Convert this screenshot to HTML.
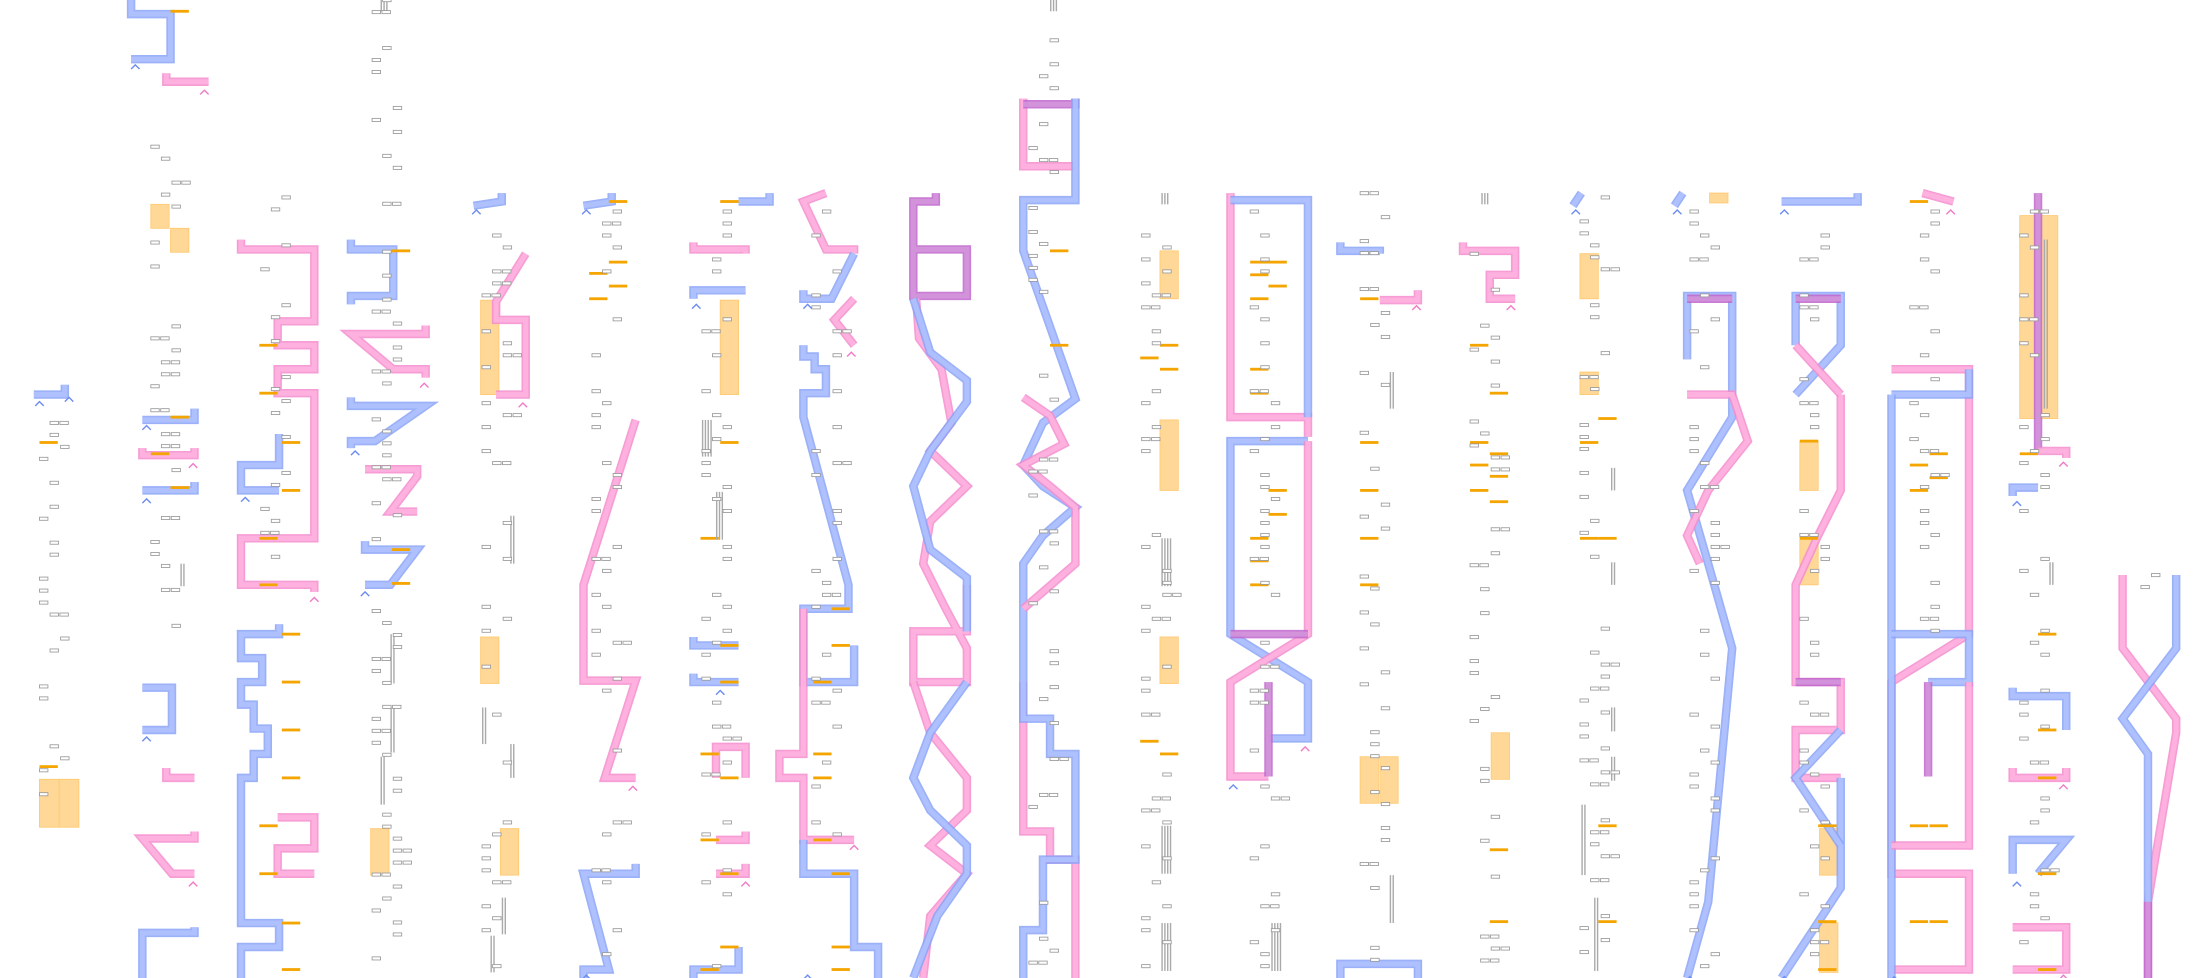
<!DOCTYPE html>
<html><head><meta charset="utf-8"><style>
html,body{margin:0;padding:0;background:#fff;width:2210px;height:978px;overflow:hidden}
svg{display:block}
</style></head><body>
<svg id="s" width="2210" height="978" viewBox="0 0 1568 694" preserveAspectRatio="none" xmlns="http://www.w3.org/2000/svg">
<g id="bg"></g><g id="ln"></g><g id="fg"></g>
</svg>
<script>
const NS="http://www.w3.org/2000/svg";
const bg=document.getElementById('bg'),ln=document.getElementById('ln'),fg=document.getElementById('fg');
function el(p,t,a){const e=document.createElementNS(NS,t);for(const k in a)e.setAttribute(k,a[k]);p.appendChild(e);return e;}
const C={b:['#8aa3f7','#b2c3ff'],p:['#f58ccf','#ffb5df'],m:['#c066cc','#d396dc']};
function P(d,c){el(ln,'path',{d:d,fill:'none',stroke:C[c][0],'stroke-width':6,'stroke-linejoin':'miter','stroke-opacity':0.85});
 el(ln,'path',{d:d,fill:'none',stroke:C[c][1],'stroke-width':3.6,'stroke-linejoin':'miter','stroke-opacity':0.85});}
function O(x,y,w,h){el(bg,'rect',{x:x,y:y,width:w,height:h,fill:'#ffd897',stroke:'#ffc870','stroke-width':0.6});}
function L(x,y,w){el(fg,'rect',{x:x,y:y-1,width:w||13,height:2,fill:'#f5a500'});}
function G(x,y){el(fg,'rect',{x:x,y:y-1,width:6,height:2.2,fill:'#fff',stroke:'#999','stroke-width':0.6});}
function H(x,y,n,h){for(let i=0;i<n;i++)el(fg,'rect',{x:x+i*2,y:y,width:1,height:h,fill:'#aaa'});}
function CH(x,y,c){el(fg,'path',{d:`M${x-3} ${y+3}L${x} ${y}L${x+3} ${y+3}`,fill:'none',stroke:c=='b'?'#6d8cf0':'#f07cc6','stroke-width':1});}
// orange boxes
O(28,553,14,34);O(42,553,14,34);O(107,145,13,17);O(121,162,13,17);
O(263,588,13,33);O(341,213,13,67);O(341,452,13,33);O(355,588,13,33);
O(511,213,13,67);O(823,178,13,34);O(823,298,13,50);O(823,452,13,33);
O(965,537,13,33);O(979,537,13,33);O(1058,520,13,33);O(1121,180,13,32);O(1121,264,13,16);
O(1213,137,13,7);O(1277,313,13,35);O(1277,380,13,35);O(1291,588,13,33);O(1291,655,13,35);
O(1433,153,27,144);
// paths
P('M24 280L46 280L46 273','b');
P('M93 0L93 10L121 10L121 42L93 42','b');P('M118 52L118 58L148 58','p');
P('M101 298L138 298L138 290','b');P('M101 318L101 323L138 323L138 318','p');P('M101 348L138 348L138 342','b');
P('M101 488L122 488L122 518L101 518','b');P('M118 545L118 552L138 552','p');
P('M138 590L138 595L101 595L122 620L138 620','p');P('M101 694L101 662L138 662L138 658','b');
P('M171 170L171 177L223 177L223 228L197 228L197 245L223 245L223 262L197 262L197 279L223 279L223 382L171 382L171 415L223 415L223 420','p');
P('M198 308L198 330L171 330L171 348L198 348','b');
P('M198 443L198 450L171 450L171 467L186 467L186 484L171 484L171 500L180 500L180 517L190 517L190 535L180 535L180 552L171 552L171 655L198 655L198 672L171 672L171 694','b');
P('M197 580L223 580L223 602L197 602L197 620L223 620','p');
P('M249 170L249 177L279 177L279 210L249 210L249 216','b');
P('M302 231L302 237L249 237L279 262L302 262L302 268','p');
P('M249 282L249 288L302 288L266 313L249 313L249 318','b');
P('M259 333L296 333L296 338L277 363L296 363','p');
P('M259 384L259 390L296 390L277 415L259 415','b');
P('M336 146L356 143L356 137','b');P('M373 180L352 214L352 227L373 227L373 280L352 280','p');
P('M414 146L434 143L434 137','b');P('M451 298L414 415L414 483L451 483L429 552L451 552','p');
P('M451 613L451 620L414 620L432 688L414 688L414 694','b');
P('M524 143L546 143L546 137','b');P('M492 172L492 177L529 177L529 180','p');P('M492 212L492 206L529 206','b');
P('M492 452L492 458L524 458','b');P('M492 478L492 484L524 484','b');P('M508 552L508 530L529 530L529 552','p');
P('M508 596L529 596L529 590','p');P('M508 620L529 620L529 613','p');P('M492 694L492 688L524 688L524 672','b');
P('M586 137L570 143L586 177L606 177L606 180','p');P('M606 180L590 212L570 212L570 206','b');P('M606 212L592 227L606 245','p');
P('M570 245L570 253L578 253L578 262L586 262L586 279L570 279L570 296L602 415L602 432L570 432L570 484L606 484L606 458','b');
P('M570 432L570 535L553 535L553 552L570 552L570 596L606 596','p');
P('M570 596L570 620L606 620L606 672L623 672L623 694','b');
P('M664 137L664 143L648 143L648 210L686 210L686 177L648 177','m');
P('M650 212L652 240L668 262L675 300L660 320L686 345L660 370L655 400L670 430L686 460L686 484L648 484L648 448L686 448L686 415','p');
P('M648 212L660 250L686 270L686 285L660 320L648 345L660 390L686 410L686 448','b');
P('M648 484L660 520L686 552L686 575L660 600L686 620L660 650L655 694','p');
P('M686 484L660 520L648 552L660 575L686 600L686 620L665 650L648 694','b');
P('M726 70L726 118L763 118','p');P('M726 74L763 74L763 70','m');P('M763 70L763 142L726 142L726 178L763 283L740 300L726 330L740 345L763 360L740 380L726 400L726 432L726 484','b');
P('M726 282L745 295L755 315L726 330L745 345L763 360L763 400L740 420L726 432','p');
P('M726 484L726 590L745 590L745 610L763 610L763 694','p');P('M726 484L726 510L745 510L745 535L763 535L763 610L740 610L740 660L726 660L726 694','b');
P('M873 137L873 296L928 296L928 310','p');P('M873 142L928 142L928 296','b');
P('M928 313L873 313L873 450L928 484L928 524L900 524','b');P('M928 313L928 450L873 484L873 551L900 551','p');
P('M900 484L900 551','m');P('M873 450L928 450','m');
P('M951 172L951 178L979 178L979 180','b');P('M979 213L1006 213L1006 206','p');P('M951 694L951 684L1006 684L1006 694','b');
P('M1038 172L1038 178L1075 178L1075 195L1057 195L1057 212L1075 212','p');
P('M1116 146L1122 137','b');P('M1188 146L1194 137','b');
P('M1197 255L1197 210L1229 210L1229 280','b');P('M1197 212L1229 212','m');
P('M1229 280L1229 296L1197 348L1212 400L1229 460L1212 640L1197 694','b');
P('M1197 280L1229 280L1240 313L1212 348L1197 380L1206 400','p');
P('M1264 143L1318 143L1318 137','b');P('M1274 245L1274 210L1306 210L1306 245L1274 280','b');P('M1274 212L1306 212','m');
P('M1306 280L1306 348L1290 380L1274 415L1274 484L1306 484L1306 518L1274 518L1274 552L1306 552','p');
P('M1274 245L1306 280','p');P('M1274 484L1306 484','m');P('M1306 552L1306 630L1264 694','b');P('M1306 518L1274 552L1306 600','b');
P('M1364 137L1386 143','p');
P('M1342 262L1397 262L1397 450L1342 484L1342 620L1397 620L1397 688L1342 688','p');
P('M1342 280L1397 280L1397 262','b');P('M1342 694L1342 280','b');P('M1342 450L1397 450L1397 484L1368 484','b');P('M1368 484L1368 551','m');P('M1342 600L1397 600L1397 484','p');
P('M1446 137L1446 320','m');P('M1446 320L1466 320L1466 325','p');P('M1428 352L1428 346L1446 346','b');
P('M1428 488L1428 494L1466 494L1466 518','b');P('M1428 545L1428 552L1466 552L1466 545','p');
P('M1428 620L1428 596L1466 596L1446 620','b');P('M1428 658L1466 658L1466 688L1428 688','p');
P('M1506 408L1506 460L1544 510L1544 520L1524 640L1524 694','p');P('M1544 408L1544 460L1506 510L1524 535L1524 640','b');P('M1524 640L1524 694','m');
// chevrons
[[96,44,'b'],[145,62,'p'],[104,300,'b'],[137,327,'p'],[104,352,'b'],[174,351,'b'],[223,422,'p'],[104,521,'b'],[137,624,'p'],[252,318,'b'],[301,270,'p'],[259,418,'b'],[338,147,'b'],[371,284,'p'],[416,147,'b'],[449,556,'p'],[416,690,'b'],[494,214,'b'],[511,488,'b'],[529,624,'p'],[573,214,'b'],[604,248,'p'],[573,690,'b'],[606,598,'p'],[875,555,'b'],[926,528,'p'],[1005,215,'p'],[1072,215,'p'],[1118,147,'b'],[1190,147,'b'],[1266,147,'b'],[1199,691,'b'],[1266,691,'b'],[1384,147,'p'],[1431,354,'b'],[1464,326,'p'],[1431,624,'b'],[1464,555,'p'],[1464,690,'p'],[1344,691,'b'],[28,283,'b'],[49,280,'b']].forEach(a=>CH(a[0],a[1]+2,a[2]));
// orange lines
[[28,314],[28,544],[121,8],[121,296],[107,322],[121,346],[184,245],[184,279],[200,314],[200,348],[184,382],[184,415],[200,450],[200,484],[200,518],[200,552],[184,586],[184,620],[200,655],[200,688],[278,178],[278,414],[278,390],[432,143],[432,186],[418,194],[432,203],[418,212],[511,143],[511,314],[497,382],[511,458],[511,484],[497,535],[511,552],[497,596],[511,620],[511,672],[497,688],[590,432],[590,458],[577,484],[577,535],[577,552],[577,596],[590,620],[590,672],[590,688],[745,178],[745,245],[809,254],[823,245],[823,262],[809,526],[823,535],[887,186],[900,186],[887,195],[900,203],[887,212],[887,262],[887,279],[900,348],[900,365],[887,382],[887,398],[887,415],[965,212],[965,314],[965,348],[965,382],[965,415],[1043,245],[1057,279],[1043,314],[1057,322],[1043,330],[1057,338],[1043,348],[1057,356],[1057,603],[1057,654],[1134,297],[1121,314],[1134,382],[1121,382],[1134,586],[1134,654],[1355,143],[1369,322],[1355,330],[1369,339],[1355,348],[1355,586],[1369,586],[1355,654],[1369,654],[1433,322],[1446,450],[1446,518],[1446,552],[1446,620],[1446,688],[1290,688],[1290,654],[1290,586],[1277,313],[1277,382]].forEach(a=>L(a[0],a[1]));
// hatches
H(270,0,3,8);H(745,0,3,8);H(824,137,3,8);H(1051,137,3,8);H(498,298,4,26);H(128,400,2,16);H(362,366,2,34);H(277,450,2,35);H(277,502,2,32);H(270,537,2,34);H(342,502,2,26);H(362,528,2,24);H(356,637,2,26);H(348,664,2,26);H(508,349,3,34);H(824,382,4,34);H(986,264,2,26);H(986,621,2,34);H(1143,332,2,16);H(1143,399,2,16);H(1143,502,2,17);H(1143,537,2,17);H(1122,571,2,50);H(1131,637,2,52);H(1454,399,2,16);H(824,586,4,34);H(824,655,4,34);H(902,655,4,34);H(1450,170,2,120);
// gray boxes scattered
let seed=7;function r(){seed=(seed*9301+49297)%233280;return seed/233280;}
const cols=[[28,300,590],[107,70,450],[185,140,400],[264,0,690],[342,150,690],[420,150,690],[498,150,690],[576,150,600],[730,20,690],[810,150,690],[887,150,690],[965,137,690],[1043,180,690],[1121,140,690],[1199,150,690],[1277,150,690],[1355,150,460],[1433,150,690],[1519,408,420]];
cols.forEach(c=>{for(let y=c[1];y<c[2];y+=8.5){if(r()<0.55){const k=Math.floor(r()*3);G(c[0]+k*7.5,y);if(r()<0.15)G(c[0]+k*7.5+7,y);}}});
</script>
</body></html>
